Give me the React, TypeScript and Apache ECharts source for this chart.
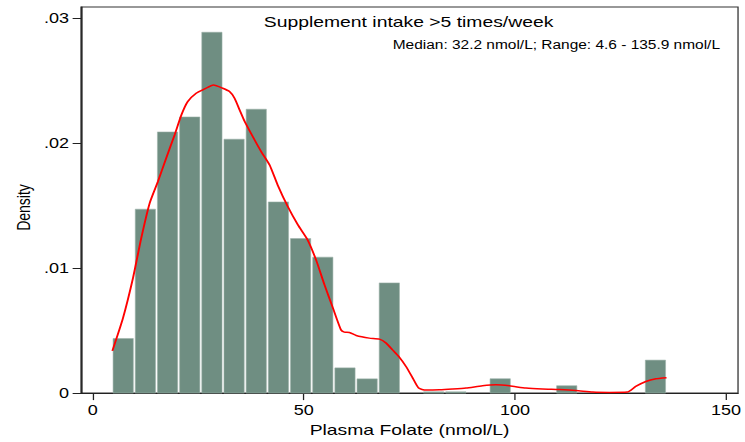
import React, { useEffect, useRef } from "react";
import * as echarts from "echarts";

// ---- data ----
const RANGE_MIN = 4.6;
const RANGE_MAX = 135.9;
const BIN_COUNT = 25;
// density per bin (null = no bar drawn, 0 = zero-height bar outline)
const densities: (number | null)[] = [
  0.00437, 0.01472, 0.0209, 0.0221, 0.02888, 0.02032, 0.02272, 0.0153, 0.01237,
  0.01088, 0.00202, 0.00114, 0.00882, null, 0, 0, null, 0.00115, null, null,
  0.00059, null, null, null, 0.00264,
];
const kdeX = [
  4.66, 7.17, 9.54, 11.5, 13.5, 15.45, 17.4, 19.4, 21.0, 22.5, 24.5, 26.5, 28.6,
  30.8, 32.4, 33.6, 34.8, 36.0, 37.9, 39.9, 41.9, 43.8, 46.2, 48.6, 50.9, 52.9,
  54.9, 56.9, 58.8, 59.6, 60.8, 62.4, 65.5, 67.9, 69.5, 71.0, 72.6, 74.2, 75.8,
  77.2, 78.9, 82.1, 85.2, 88.4, 92.3, 95.5, 98.7, 102.6, 106.5, 110.5, 114.4,
  118.4, 122.3, 126.6, 128.6, 131.0, 133.4, 135.9,
];
const kdeY = [
  0.00338, 0.006, 0.0092, 0.0124, 0.0152, 0.01693, 0.0188, 0.02066, 0.02226,
  0.02333, 0.024, 0.02434, 0.02466, 0.0244, 0.02413, 0.0236, 0.02266, 0.02173,
  0.02053, 0.01933, 0.01826, 0.01666, 0.01493, 0.01346, 0.01226, 0.01066,
  0.00866, 0.0068, 0.00506, 0.00488, 0.00485, 0.00461, 0.0044, 0.00432, 0.004,
  0.00346, 0.00288, 0.00213, 0.0012, 0.0004, 0.00024, 0.00026, 0.00032, 0.0004,
  0.00058, 0.00066, 0.00058, 0.0004, 0.00032, 0.00028, 0.00021, 0.00008,
  0.00005, 0.00008, 0.00053, 0.00093, 0.00114, 0.00122,
];
const xTicks = [0, 50, 100, 150];
const yTicks = [0, 0.01, 0.02, 0.03];
const TITLE = "Supplement intake >5 times/week";
const SUBTITLE = "Median: 32.2 nmol/L; Range: 4.6 - 135.9 nmol/L";
const X_NAME = "Plasma Folate (nmol/L)";
const Y_NAME = "Density";

// ---- layout ----
const W0 = 578;
const H = 442;
const S = 745 / W0; // the reference is stretched horizontally
const FONT = "'Liberation Sans', Arial, Helvetica, sans-serif";

export default function App() {
  const ref = useRef<HTMLDivElement>(null);

  useEffect(() => {
    if (!ref.current) return;
    const chart = echarts.init(ref.current, null, { renderer: "svg" });
    const binW = (RANGE_MAX - RANGE_MIN) / BIN_COUNT;
    const barData: number[][] = [];
    densities.forEach((d, i) => {
      if (d === null) return;
      barData.push([RANGE_MIN + i * binW, RANGE_MIN + (i + 1) * binW, d]);
    });
    const kdeData = kdeX.map((x, i) => [x, kdeY[i]]);

    chart.setOption({
      animation: false,
      textStyle: { fontFamily: FONT },
      grid: {
        left: 62.84,
        right: 4.9,
        top: 7,
        bottom: 48.7,
        show: true,
        borderColor: "#333",
        borderWidth: 1,
      },
      xAxis: {
        type: "value",
        min: -2.77,
        max: 152.83,
        axisLine: { show: true, onZero: false, lineStyle: { color: "#222", width: 1.2 } },
        axisTick: { show: true, customValues: xTicks, length: 7, lineStyle: { color: "#222" } },
        axisLabel: {
          customValues: xTicks,
          fontSize: 14,
          color: "#000",
          margin: 10,
          fontFamily: FONT,
        },
        splitLine: { show: false },
        name: X_NAME,
        nameLocation: "middle",
        nameGap: 27,
        nameTextStyle: { fontSize: 15, color: "#000", fontFamily: FONT },
      },
      yAxis: {
        type: "value",
        min: 0,
        max: 0.0309,
        axisLine: { show: true, onZero: false, lineStyle: { color: "#222", width: 1.2 } },
        axisTick: { show: true, customValues: yTicks, length: 6.5, lineStyle: { color: "#222" } },
        axisLabel: {
          customValues: yTicks,
          fontSize: 14,
          color: "#000",
          margin: 9.3,
          fontFamily: FONT,
          formatter: (v: number) => (v === 0 ? "0" : v.toFixed(2).replace(/^0/, "")),
        },
        splitLine: { show: false },
      },
      graphic: [
        {
          type: "text",
          x: 317,
          y: 22,
          style: {
            text: TITLE,
            fontSize: 15,
            fontFamily: FONT,
            fill: "#000",
            align: "center",
            verticalAlign: "middle",
          },
        },
        {
          type: "text",
          x: 558.6,
          y: 44.5,
          style: {
            text: SUBTITLE,
            fontSize: 12,
            fontFamily: FONT,
            fill: "#000",
            align: "right",
            verticalAlign: "middle",
          },
        },
        {
          type: "text",
          x: 18.1,
          y: 207.5,
          rotation: Math.PI / 2,
          style: {
            text: Y_NAME,
            fontSize: 14,
            fontFamily: FONT,
            fill: "#000",
            align: "center",
            verticalAlign: "middle",
          },
        },
      ],
      series: [
        {
          type: "custom",
          data: barData,
          encode: { x: [0, 1], y: 2 },
          z: 2,
          renderItem: (params: any, api: any) => {
            const lo = api.value(0);
            const hi = api.value(1);
            const d = api.value(2);
            const p0 = api.coord([lo, 0]);
            const p1 = api.coord([hi, d]);
            const inset = 0.75;
            const h = Math.max(p0[1] - p1[1], 1.3);
            return {
              type: "rect",
              shape: {
                x: p0[0] + inset,
                y: p0[1] - h,
                width: p1[0] - p0[0] - 2 * inset,
                height: h,
              },
              style: { fill: "#6f8e82", stroke: "#9db2a8", lineWidth: 0.5 },
            };
          },
        },
        {
          type: "line",
          data: kdeData,
          showSymbol: false,
          symbol: "none",
          smooth: 0.2,
          z: 3,
          lineStyle: { color: "#ff0000", width: 1.5 },
        },
      ],
    });
    return () => chart.dispose();
  }, []);

  return (
    <div
      style={{
        position: "fixed",
        left: 0,
        top: 0,
        width: W0,
        height: H,
        transform: `scaleX(${S})`,
        transformOrigin: "0 0",
        background: "#fff",
      }}
    >
      <div ref={ref} style={{ width: W0, height: H }} />
    </div>
  );
}
